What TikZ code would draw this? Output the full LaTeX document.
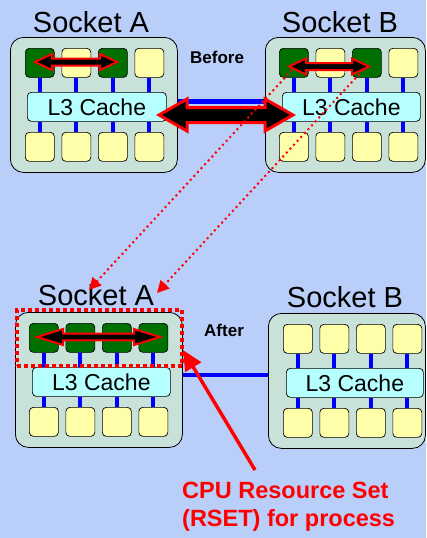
\documentclass[tikz,border=0pt]{standalone}
\usepackage{fontspec}
\setmainfont{Liberation Sans}
\usetikzlibrary{arrows.meta}

\definecolor{bgblue}{RGB}{186,206,250}
\definecolor{sockfill}{RGB}{200,226,218}
\definecolor{cachefill}{RGB}{182,255,255}
\definecolor{coreyel}{RGB}{255,255,170}
\definecolor{coregrn}{RGB}{0,112,0}
\definecolor{linkblue}{RGB}{0,0,255}
\definecolor{hotred}{RGB}{255,0,0}

\tikzset{
  socketbox/.style={draw=black, line width=0.8pt, fill=sockfill, rounded corners=13pt,
    anchor=north west, inner sep=0pt, minimum height=135pt},
  corebox/.style={draw=black, line width=0.7pt, rounded corners=4pt, anchor=north west,
    inner sep=0pt, minimum width=29pt, minimum height=29pt},
  cachebox/.style={draw=black, line width=0.7pt, fill=cachefill, rounded corners=4pt,
    anchor=north west, inner sep=0pt, minimum height=29pt, font=\fontsize{23}{23}\selectfont},
  link/.style={linkblue, line width=4pt},
  socklabel/.style={font=\fontsize{29}{29}\selectfont, inner sep=0pt},
  phase/.style={font=\fontsize{17}{17}\selectfont\bfseries, inner sep=0pt, anchor=west},
  moveshape/.style={fill=black, draw=hotred, line join=miter},
  rsetbox/.style={draw=hotred, line width=3.5pt, dash pattern=on 4pt off 3pt,
    anchor=north west, inner sep=0pt},
  migrate/.style={hotred, line width=2pt, dash pattern=on 2pt off 3.3pt,
    -{Triangle[length=12pt,width=12pt]}},
  pointer/.style={hotred, line width=3.5pt, -{Triangle[length=20pt,width=18pt]}},
}

% #1 name, #2 left, #3 top, #4 width, #5 first core left,
% #6 cache left, #7 cache width, #8 fills of the upper cores
\newcommand\cpusocket[8]{%
  \node[socketbox, minimum width=#4pt] (#1) at (#2,#3) {};
  \node[cachebox, minimum width=#7pt] (#1L) at (#6,#3+55) {L3 Cache};
  \foreach \fc [count=\i] in {#8} {
    \node[corebox, fill=\fc] (#1u\i) at ({#5+(\i-1)*36.5},{#3+11}) {};
    \node[corebox, fill=coreyel] (#1d\i) at ({#5+(\i-1)*36.5},{#3+95}) {};
    \draw[link] (#1u\i.south) -- (#1u\i.south |- #1L.north);
    \draw[link] (#1d\i.north) -- (#1d\i.north |- #1L.south);
  }
}

% double-headed block arrow: #1 left tip, #2 right tip, #3 y, #4 head length,
% #5 head half height, #6 shaft half height, #7 outline width
\newcommand\movearrow[7]{%
  \draw[moveshape, line width=#7pt] (#1,#3) -- ({#1+#4},{#3-#5}) -- ({#1+#4},{#3-#6})
    -- ({#2-#4},{#3-#6}) -- ({#2-#4},{#3-#5}) -- (#2,#3) -- ({#2-#4},{#3+#5})
    -- ({#2-#4},{#3+#6}) -- ({#1+#4},{#3+#6}) -- ({#1+#4},{#3+#5}) -- cycle;
}

\begin{document}
\begin{tikzpicture}[x=1pt, y=-1pt]
  \fill[bgblue] (0,0) rectangle (426,538);
  \useasboundingbox (0,0) rectangle (426,538);

  % ---- before ----
  \coordinate (ylinkTop) at (0,101);
  \draw[link, line width=5pt] (177,101) -- (265,101);
  \cpusocket{tA}{10}{37}{167}{25}{27}{139}{coregrn,coreyel,coregrn,coreyel}
  \cpusocket{tB}{265}{37}{160}{279}{282}{138}{coregrn,coreyel,coregrn,coreyel}
  \node[socklabel] (tAname) at (91,22) {Socket A};
  \node[socklabel] (tBname) at (340,22) {Socket B};
  \node[phase] (before) at (190,57) {Before};

  \movearrow{159}{293}{115}{28}{16}{7.5}{3}
  \movearrow{35}{117}{62}{17}{8}{3.5}{2}
  \movearrow{289}{369}{66.5}{17}{8}{3.5}{2}

  % ---- after ----
  \draw[link] (182,375) -- (268,375);
  \cpusocket{bA}{15}{312}{167}{29}{32}{138}{coregrn,coregrn,coregrn,coregrn}
  \cpusocket{bB}{268}{313}{157}{283}{286}{137}{coreyel,coreyel,coreyel,coreyel}
  \node[socklabel] (bAname) at (96,295) {Socket A};
  \node[socklabel] (bBname) at (345,297) {Socket B};
  \node[phase] (after) at (204,330) {After};

  \movearrow{37}{160}{337}{26}{8}{3.3}{2}
  \node[rsetbox, minimum width=165pt, minimum height=56pt] (rset) at (15,308) {};

  % ---- threads moved onto socket A ----
  \coordinate (m1s) at (292,70);
  \coordinate (m1e) at (89,290);
  \coordinate (m2s) at (363,70);
  \coordinate (m2e) at (157,293);
  \draw[migrate] (m1s) -- (m1e);
  \draw[migrate] (m2s) -- (m2e);

  % ---- resource set label ----
  \node[anchor=north west, inner sep=0pt, align=left, text=hotred,
        font=\fontsize{23.5}{28}\selectfont\bfseries] (rsetlabel) at (182,482)
        {CPU Resource Set\\(RSET) for process};
  \coordinate (ptail) at (255,470);
  \coordinate (ptip) at (183,350);
  \draw[pointer] (ptail) -- (ptip);
\end{tikzpicture}
\end{document}
